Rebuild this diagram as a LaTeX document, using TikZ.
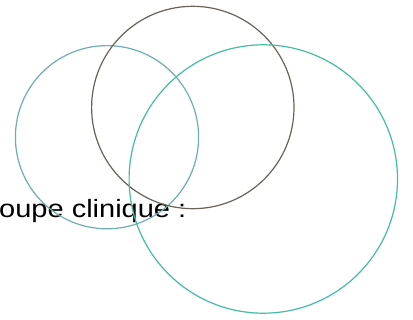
\documentclass[tikz,border=0pt]{standalone}
\usepackage{fontspec}
\setmainfont{Liberation Sans}
\definecolor{leftteal}{RGB}{110,175,172}
\definecolor{rightteal}{RGB}{70,188,160}
\definecolor{browngray}{RGB}{105,98,88}
\tikzset{
  ring/.style={line width=1.2pt},
  label/.style={font=\fontsize{25}{29}\selectfont, inner sep=0pt, anchor=base west, text=black}
}
\begin{document}
\begin{tikzpicture}[x=1pt,y=-1pt]
\useasboundingbox[fill=white] (0,0) rectangle (413,320);
\node[label, xscale=1.16] (lbl) at (-1,217.3) {oupe clinique :};
\draw[ring, leftteal] (107,137.2) circle[radius=91.6];
\draw[ring, browngray] (192.8,107.5) circle[radius=101.2];
\draw[ring, rightteal] (263.3,179) circle[radius=134.2];
\end{tikzpicture}
\end{document}
